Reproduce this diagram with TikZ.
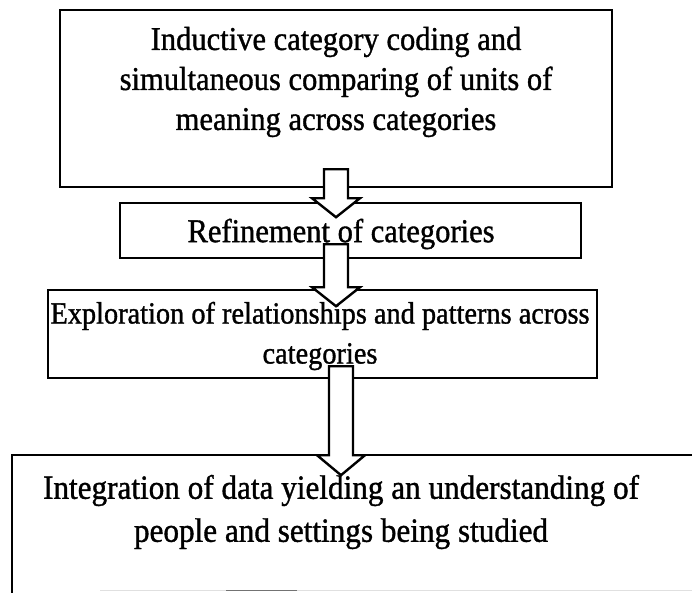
\documentclass[tikz,border=0pt]{standalone}
\usepackage{fontspec}
\setmainfont{Liberation Serif}[FakeBold=1.1,FakeStretch=0.92]
\begin{document}
\begin{tikzpicture}[x=1pt,y=-1pt,
  boxstyle/.style={draw=black,line width=2.4pt,rectangle,inner sep=0pt},
  txt/.style={font=\fontsize{33.2}{40}\selectfont,align=center,inner sep=0pt},
  blockarrow/.style={draw=black,line width=2.4pt,fill=white,line join=miter}]
\useasboundingbox (0,0) rectangle (692,592);
% boxes
\node[boxstyle,minimum width=552pt,minimum height=177pt] (b1) at (336,98.5) {};
\node[boxstyle,minimum width=461pt,minimum height=55pt] (b2) at (350.5,230.5) {};
\node[boxstyle,minimum width=549pt,minimum height=88pt] (b3) at (322.5,334) {};
\begin{scope}
\clip (0,0) rectangle (692,592);
\node[boxstyle,minimum width=720pt,minimum height=180pt] (b4) at (372,545) {};
\end{scope}
% faint scanned remnant of the bottom edge
\draw[line width=1.5pt,black!12] (100,590.5) -- (692,590.5);
\draw[line width=1.5pt,black!55] (226,590.5) -- (297,590.5);
% texts
\node[txt] (t1) at (336,82) {Inductive category coding and\\simultaneous comparing of units of\\meaning across categories};
\node[txt] (t2) at (341,234) {Refinement of categories};
\node[txt,font=\fontsize{30.8}{40}\selectfont] (t3) at (320,336) {Exploration of relationships and patterns across\\categories};
\node[txt,font=\fontsize{33.9}{43}\selectfont] (t4) at (341,512) {Integration of data yielding an understanding of\\people and settings being studied};
% arrows
\coordinate (a1) at (b1.south -| 336,0);
\draw[blockarrow] ([shift={(-12,-19)}]a1) -- ([shift={(12,-19)}]a1) -- ([shift={(12,10)}]a1) -- ([shift={(24,10)}]a1) -- ([shift={(0,29)}]a1) -- ([shift={(-24,10)}]a1) -- ([shift={(-12,10)}]a1) -- cycle;
\coordinate (a2) at (b2.south -| 336,0);
\draw[blockarrow] ([shift={(-12,-15)}]a2) -- ([shift={(12,-15)}]a2) -- ([shift={(12,28)}]a2) -- ([shift={(24,28)}]a2) -- ([shift={(0,47)}]a2) -- ([shift={(-24,28)}]a2) -- ([shift={(-12,28)}]a2) -- cycle;
\coordinate (a3) at (b3.south -| 341,0);
\draw[blockarrow] ([shift={(-12,-13)}]a3) -- ([shift={(12,-13)}]a3) -- ([shift={(12,76)}]a3) -- ([shift={(24,76)}]a3) -- ([shift={(0,96)}]a3) -- ([shift={(-24,76)}]a3) -- ([shift={(-12,76)}]a3) -- cycle;
\end{tikzpicture}
\end{document}
